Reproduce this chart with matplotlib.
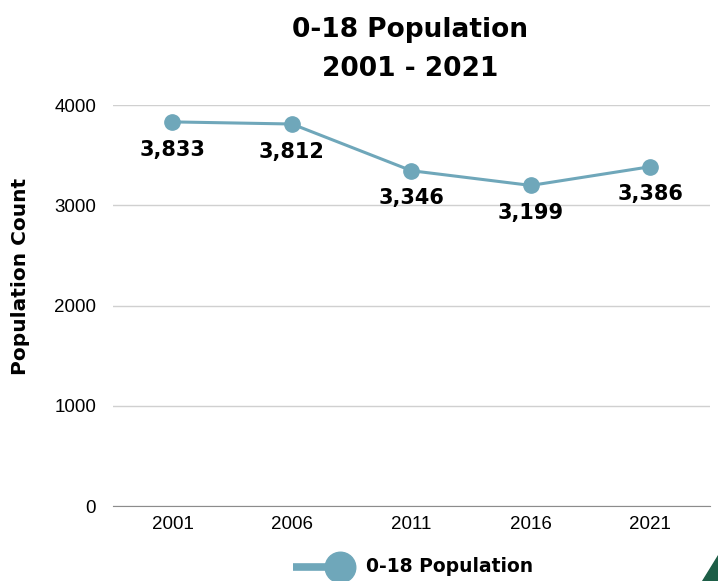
import matplotlib
matplotlib.use("Agg")
import matplotlib.pyplot as plt
from matplotlib.lines import Line2D
from matplotlib.patches import Polygon

years = ['2001', '2006', '2011', '2016', '2021']
population = [3833, 3812, 3346, 3199, 3386]
labels = ['3,833', '3,812', '3,346', '3,199', '3,386']
yticks = [0, 1000, 2000, 3000, 4000]

line_col = '#6fa7ba'
bold_font = ['DejaVu Sans']

plt.rcParams['font.family'] = ['Liberation Sans', 'DejaVu Sans']

fig = plt.figure(figsize=(7.18, 5.81), dpi=100)
ax = fig.add_axes([0.157, 0.129, 0.832, 0.690])

x = list(range(len(years)))
ax.plot(x, population, color=line_col, lw=2.2, marker='o', markersize=11,
        zorder=3)

for xi, yi, lab in zip(x, population, labels):
    ax.annotate(lab, (xi, yi), xytext=(0, -20), textcoords='offset points',
                ha='center', va='center', fontsize=15, fontweight='bold',
                family=bold_font)

ax.set_xlim(-0.5, len(years) - 0.5)
ax.set_ylim(0, 4000)
ax.set_xticks(x)
ax.set_xticklabels(years, fontsize=13.5)
ax.set_yticks(yticks)
ax.set_yticklabels([str(t) for t in yticks], fontsize=13.5)
ax.tick_params(axis='x', length=0, pad=7)
ax.tick_params(axis='y', length=0, pad=12)
ax.grid(axis='y', color='#d0d0d0', lw=1)
ax.set_axisbelow(True)
for s in ['top', 'right', 'left']:
    ax.spines[s].set_visible(False)
ax.spines['bottom'].set_color('#8c8c8c')
ax.spines['bottom'].set_zorder(2)

fig.text(0.029, 0.525, 'Population Count', rotation=90, ha='center',
         va='center', fontsize=14.5, fontweight='bold', family=bold_font)

fig.text(0.571, 0.949, '0-18 Population', ha='center', va='center',
         fontsize=19, fontweight='bold', family=bold_font)
fig.text(0.571, 0.882, '2001 - 2021', ha='center', va='center',
         fontsize=19, fontweight='bold', family=bold_font)

# legend drawn by hand: thick line with a big dot near its right end
ly = 1 - 567 / 581
fig.add_artist(Line2D([293 / 718, 345 / 718], [ly, ly], color=line_col,
                      lw=5.5, solid_capstyle='butt'))
fig.add_artist(Line2D([340 / 718], [ly], color=line_col, marker='o',
                      markersize=22, lw=0))
fig.text(366 / 718, 1 - 566 / 581, '0-18 Population', ha='left', va='center',
         fontsize=13.5, fontweight='bold', family=bold_font)

# green corner decoration
fig.patches.append(Polygon([[1.0, 0.045], [1.0, 0.0], [0.978, 0.0]],
                           closed=True, transform=fig.transFigure,
                           color='#1d5e47', zorder=0))

fig.savefig('out.png', dpi=100)
